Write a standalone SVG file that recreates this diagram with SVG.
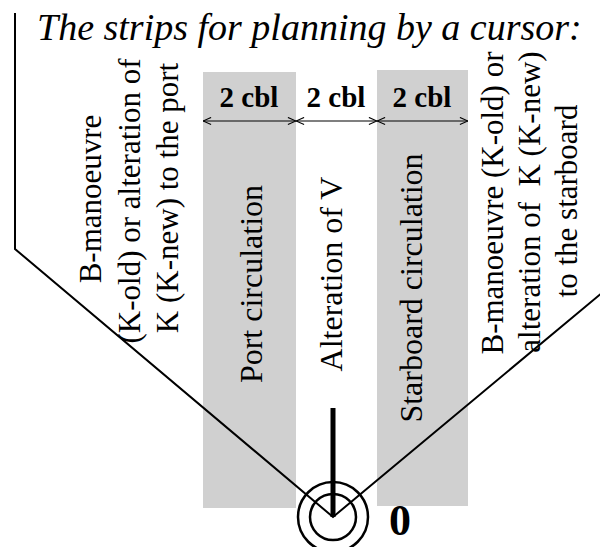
<svg xmlns="http://www.w3.org/2000/svg" width="600" height="547" viewBox="0 0 600 547">
<style>
text{font-family:"Liberation Serif","Times New Roman",serif;fill:#000}
.strip{fill:#d0d0d0}
.ln{stroke:#000;fill:none}
.lab{font-size:31px;text-anchor:middle}
.mid{font-size:32px;text-anchor:middle}
.cbl{font-size:29px;font-weight:bold;text-anchor:middle}
</style>
<defs>
<marker id="ah" viewBox="0 0 10 10" refX="10" refY="5" markerWidth="9" markerHeight="9" markerUnits="userSpaceOnUse" orient="auto-start-reverse">
<path d="M1,1 L10,5 L1,9" fill="none" stroke="#000" stroke-width="1.2"/>
</marker>
</defs>
<rect width="600" height="547" fill="#fff"/>
<text id="title" x="37" y="40" font-size="38" font-style="italic">The strips for planning by a cursor:</text>
<g id="port-strip">
<rect class="strip" x="203" y="72" width="93" height="436"/>
<text class="mid" transform="translate(262,284) rotate(-90)">Port circulation</text>
</g>
<g id="alteration-v">
<text class="mid" transform="translate(342,274) rotate(-90)">Alteration of V</text>
</g>
<g id="starboard-strip">
<rect class="strip" x="377" y="70" width="91" height="436"/>
<text class="mid" transform="translate(422,288) rotate(-90)">Starboard circulation</text>
</g>
<g id="port-label">
<text class="lab" transform="translate(101,199) rotate(-90)">B-manoeuvre</text>
<text class="lab" transform="translate(140,201) rotate(-90)">(K-old) or alteration of</text>
<text class="lab" transform="translate(178,198) rotate(-90)">K (K-new) to the port</text>
</g>
<g id="starboard-label">
<text class="lab" transform="translate(503,203) rotate(-90)">B-manoeuvre (K-old) or</text>
<text class="lab" transform="translate(540,202) rotate(-90)" xml:space="preserve">alteration of  K (K-new)</text>
<text class="lab" transform="translate(577,201) rotate(-90)">to the starboard</text>
</g>
<g id="widths">
<text class="cbl" x="249" y="107">2 cbl</text>
<text class="cbl" x="336" y="107">2 cbl</text>
<text class="cbl" x="422" y="107">2 cbl</text>
</g>
<g id="connectors">
<polyline class="ln" stroke-width="2" points="15,13 15,249 333,517 603,292"/>
<line class="ln" stroke-width="1.2" x1="203" y1="121" x2="296" y2="121" marker-start="url(#ah)" marker-end="url(#ah)"/>
<line class="ln" stroke-width="1.2" x1="296" y1="121" x2="377" y2="121" marker-start="url(#ah)" marker-end="url(#ah)"/>
<line class="ln" stroke-width="1.2" x1="377" y1="121" x2="468" y2="121" marker-start="url(#ah)" marker-end="url(#ah)"/>
</g>
<g id="origin">
<line class="ln" stroke-width="5" x1="333" y1="408" x2="333" y2="517"/>
<circle class="ln" stroke-width="2.5" cx="333" cy="517" r="23"/>
<circle class="ln" stroke-width="2.5" cx="333" cy="517" r="35"/>
<text x="389" y="535" font-size="44" font-weight="bold">0</text>
</g>
</svg>
